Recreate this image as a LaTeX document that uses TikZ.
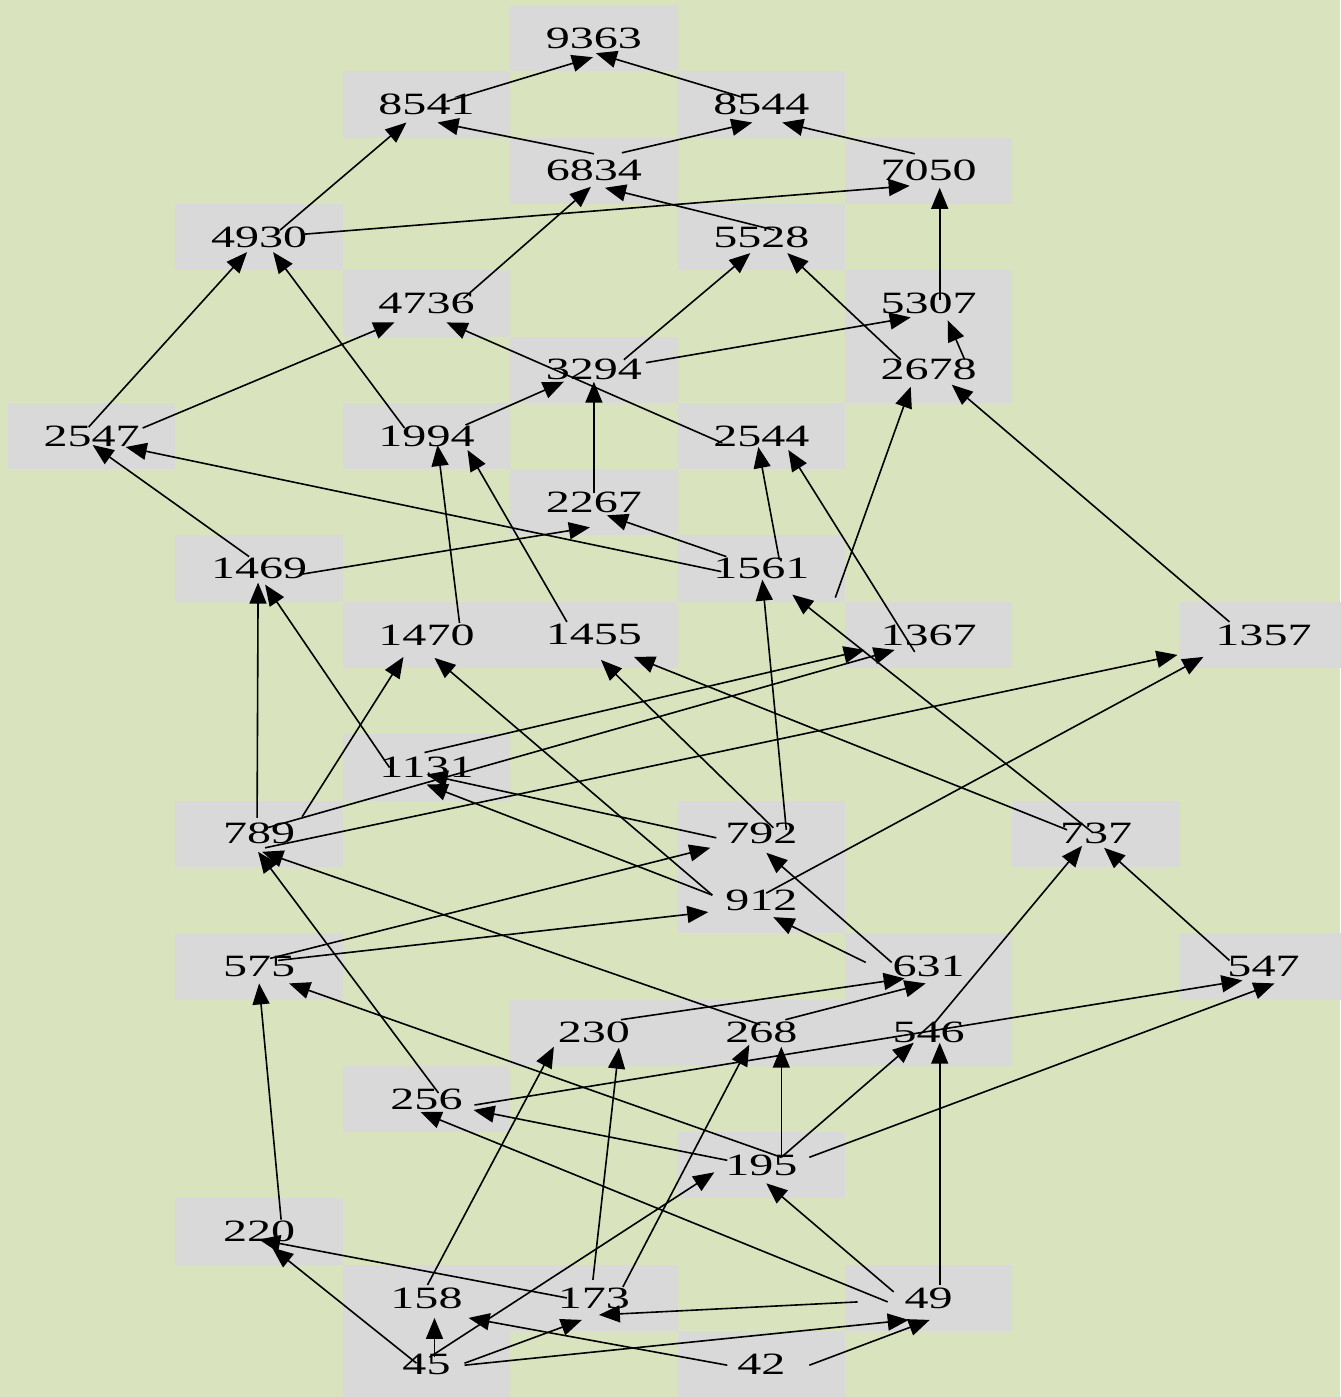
\documentclass[tikz,border=0pt]{standalone}
\usepackage{fontspec}
\usepackage{xcolor}
\newfontfamily\cellfont{Liberation Serif}[FakeStretch=1.55]
\definecolor{dagbg}{RGB}{217,228,191}
\definecolor{daggray}{RGB}{217,217,217}
\usepackage{tikz}
\usetikzlibrary{arrows.meta}

\begin{document}
\begin{tikzpicture}[x=0.5pt, y=-0.5pt,
  cell/.style={fill=daggray, minimum width=83.7pt, minimum height=33.15pt,
    inner sep=0pt, outer sep=0pt, font=\cellfont\fontsize{15.5}{18}\selectfont},
  link/.style={draw=black, line width=0.8pt, -{Triangle[length=10.5pt, width=8.5pt]}}]
  % Background
  \fill[dagbg] (0,0) rectangle (1340,1397);
  \useasboundingbox (0,0) rectangle (1340,1397);

  % Rows 0--5
  \node[cell] (n9363) at (593.9,38.2) {9363};
  \node[cell] (n8541) at (426.5,104.5) {8541};
  \node[cell] (n8544) at (761.3,104.5) {8544};
  \node[cell] (n6834) at (593.9,170.8) {6834};
  \node[cell] (n7050) at (928.7,170.8) {7050};
  \node[cell] (n4930) at (259.1,237.1) {4930};
  \node[cell] (n5528) at (761.3,237.1) {5528};
  \node[cell] (n4736) at (426.5,303.4) {4736};
  \node[cell] (n5307) at (928.7,303.4) {5307};
  \node[cell] (n3294) at (593.9,369.7) {3294};
  \node[cell] (n2678) at (928.7,369.7) {2678};

  % Rows 6--9
  \node[cell] (n2547) at (91.7,436) {2547};
  \node[cell] (n1994) at (426.5,436) {1994};
  \node[cell] (n2544) at (761.3,436) {2544};
  \node[cell] (n2267) at (593.9,502.3) {2267};
  \node[cell] (n1469) at (259.1,568.6) {1469};
  \node[cell] (n1561) at (761.3,568.6) {1561};
  \node[cell] (n1470) at (426.5,634.9) {1470};
  \node[cell] (n1455) at (593.9,634.9) {1455};
  \node[cell] (n1367) at (928.7,634.9) {1367};
  \node[cell] (n1357) at (1263.5,634.9) {1357};

  % Rows 11--15
  \node[cell] (n1131) at (426.5,767.5) {1131};
  \node[cell] (n789) at (259.1,833.8) {789};
  \node[cell] (n792) at (761.3,833.8) {792};
  \node[cell] (n737) at (1096.1,833.8) {737};
  \node[cell] (n912) at (761.3,900.1) {912};
  \node[cell] (n575) at (259.1,966.4) {575};
  \node[cell] (n631) at (928.7,966.4) {631};
  \node[cell] (n547) at (1263.5,966.4) {547};
  \node[cell] (n230) at (593.9,1032.7) {230};
  \node[cell] (n268) at (761.3,1032.7) {268};
  \node[cell] (n546) at (928.7,1032.7) {546};

  % Rows 16--20
  \node[cell] (n256) at (426.5,1099) {256};
  \node[cell] (n195) at (761.3,1165.3) {195};
  \node[cell] (n220) at (259.1,1231.6) {220};
  \node[cell] (n158) at (426.5,1297.9) {158};
  \node[cell] (n173) at (593.9,1297.9) {173};
  \node[cell] (n49) at (928.7,1297.9) {49};
  \node[cell] (n45) at (426.5,1364.2) {45};
  \node[cell] (n42) at (761.3,1364.2) {42};

  % Edges into the upper rows
  \draw[link] ([shift={(20,-3)}]n8541.center) -- ([shift={(-1,19)}]n9363.center);
  \draw[link] ([shift={(-18,-7)}]n8544.center) -- ([shift={(2,15)}]n9363.center);
  \draw[link] ([shift={(0,-17)}]n6834.center) -- ([shift={(11,18)}]n8541.center);
  \draw[link] ([shift={(21,-7)}]n4930.center) -- ([shift={(-20,18)}]n8541.center);
  \draw[link] ([shift={(28,-18)}]n6834.center) -- ([shift={(-9,18)}]n8544.center);
  \draw[link] ([shift={(-14,-17)}]n7050.center) -- ([shift={(21,18)}]n8544.center);
  \draw[link] ([shift={(37,-5)}]n4736.center) -- ([shift={(-3,16)}]n6834.center);
  \draw[link] ([shift={(13,-7)}]n5528.center) -- ([shift={(11,17)}]n6834.center);
  \draw[link] ([shift={(46,-3)}]n4930.center) -- ([shift={(-19,15)}]n7050.center);
  \draw[link] ([shift={(11,-3)}]n5307.center) -- ([shift={(11,17)}]n7050.center);
  \draw[link] ([shift={(-3,-9)}]n2547.center) -- ([shift={(-12,15)}]n4930.center);
  \draw[link] ([shift={(-22,-8)}]n1994.center) -- ([shift={(14,15)}]n4930.center);
  \draw[link] ([shift={(30,-10)}]n3294.center) -- ([shift={(-11,16)}]n5528.center);
  \draw[link] ([shift={(-28,-10)}]n2678.center) -- ([shift={(26,16)}]n5528.center);
  \draw[link] ([shift={(51,-8)}]n2547.center) -- ([shift={(-32,19)}]n4736.center);
  \draw[link] ([shift={(-39,7)}]n2544.center) -- ([shift={(20,19)}]n4736.center);
  \draw[link] ([shift={(52,-7)}]n3294.center) -- ([shift={(-18,14)}]n5307.center);
  \draw[link] ([shift={(36,-10)}]n2678.center) -- ([shift={(19,17)}]n5307.center);
  \draw[link] ([shift={(39,-11)}]n1994.center) -- ([shift={(-30,12)}]n3294.center);
  \draw[link] ([shift={(0,-9)}]n2267.center) -- ([shift={(0,12)}]n3294.center);
  \draw[link] ([shift={(74,29)}]n1561.center) -- ([shift={(-18,17)}]n2678.center);
  \draw[link] ([shift={(-34,-13)}]n1357.center) -- ([shift={(23,15)}]n2678.center);

  % Edges into the middle rows
  \draw[link] ([shift={(-10,-12)}]n1469.center) -- ([shift={(1,9)}]n2547.center);
  \draw[link] ([shift={(-40,3)}]n1561.center) -- ([shift={(34,11)}]n2547.center);
  \draw[link] ([shift={(33,-12)}]n1470.center) -- ([shift={(11,9)}]n1994.center);
  \draw[link] ([shift={(-27,-13)}]n1455.center) -- ([shift={(41,14)}]n1994.center);
  \draw[link] ([shift={(18,-9)}]n1561.center) -- ([shift={(-3,11)}]n2544.center);
  \draw[link] ([shift={(-14,17)}]n1367.center) -- ([shift={(27,14)}]n2544.center);
  \draw[link] ([shift={(40,6)}]n1469.center) -- ([shift={(-4,25)}]n2267.center);
  \draw[link] ([shift={(-35,-12)}]n1561.center) -- ([shift={(13,13)}]n2267.center);
  \draw[link] ([shift={(-2,-16)}]n789.center) -- ([shift={(-1,14)}]n1469.center);
  \draw[link] ([shift={(-37,0)}]n1131.center) -- ([shift={(6,16)}]n1469.center);
  \draw[link] ([shift={(25,-4)}]n792.center) -- ([shift={(1,11)}]n1561.center);
  \draw[link] ([shift={(-3,-1)}]n737.center) -- ([shift={(31,26)}]n1561.center);
  \draw[link] ([shift={(43,-17)}]n789.center) -- ([shift={(-23,22)}]n1470.center);
  \draw[link] ([shift={(-49,-5)}]n912.center) -- ([shift={(8,23)}]n1470.center);
  \draw[link] ([shift={(12,-6)}]n792.center) -- ([shift={(7,25)}]n1455.center);
  \draw[link] ([shift={(-29,-4)}]n737.center) -- ([shift={(40,22)}]n1455.center);
  \draw[link] ([shift={(-2,-15)}]n1131.center) -- ([shift={(-64,15)}]n1367.center);
  \draw[link] ([shift={(8,-6)}]n789.center) -- ([shift={(-34,15)}]n1367.center);
  \draw[link] ([shift={(6,14)}]n789.center) -- ([shift={(-86,20)}]n1357.center);
  \draw[link] ([shift={(5,-7)}]n912.center) -- ([shift={(-60,22)}]n1357.center);
  \draw[link] ([shift={(-45,4)}]n792.center) -- ([shift={(0,7)}]n1131.center);
  \draw[link] ([shift={(-49,-5)}]n912.center) -- ([shift={(0,17)}]n1131.center);

  % Edges into the lower rows
  \draw[link] ([shift={(-1,-8)}]n268.center) -- ([shift={(3,18)}]n789.center);
  \draw[link] ([shift={(12,-6)}]n256.center) -- ([shift={(-1,18)}]n789.center);
  \draw[link] ([shift={(11,-8)}]n575.center) -- ([shift={(-51,14)}]n792.center);
  \draw[link] ([shift={(-37,-4)}]n631.center) -- ([shift={(5,19)}]n792.center);
  \draw[link] ([shift={(6,-10)}]n546.center) -- ([shift={(-14,12)}]n737.center);
  \draw[link] ([shift={(-34,-6)}]n547.center) -- ([shift={(8,14)}]n737.center);
  \draw[link] ([shift={(19,-6)}]n575.center) -- ([shift={(-53,12)}]n912.center);
  \draw[link] ([shift={(-63,-4)}]n631.center) -- ([shift={(12,17)}]n912.center);
  \draw[link] ([shift={(22,-12)}]n220.center) -- ([shift={(0,17)}]n575.center);
  \draw[link] ([shift={(20,-8)}]n195.center) -- ([shift={(30,17)}]n575.center);
  \draw[link] ([shift={(27,-13)}]n230.center) -- ([shift={(-24,12)}]n631.center);
  \draw[link] ([shift={(24,-13)}]n268.center) -- ([shift={(-3,17)}]n631.center);
  \draw[link] ([shift={(48,6)}]n256.center) -- ([shift={(-21,14)}]n547.center);
  \draw[link] ([shift={(48,-8)}]n195.center) -- ([shift={(11,17)}]n547.center);
  \draw[link] ([shift={(1,-13)}]n158.center) -- ([shift={(-40,14)}]n230.center);
  \draw[link] ([shift={(-1,-18)}]n173.center) -- ([shift={(25,15)}]n230.center);
  \draw[link] ([shift={(29,-11)}]n173.center) -- ([shift={(-12,12)}]n268.center);
  \draw[link] ([shift={(20,-8)}]n195.center) -- ([shift={(20,14)}]n268.center);
  \draw[link] ([shift={(20,-8)}]n195.center) -- ([shift={(-15,10)}]n546.center);
  \draw[link] ([shift={(11,-13)}]n49.center) -- ([shift={(11,10)}]n546.center);
  \draw[link] ([shift={(-34,-5)}]n195.center) -- ([shift={(47,11)}]n256.center);
  \draw[link] ([shift={(-41,4)}]n49.center) -- ([shift={(-6,13)}]n256.center);
  \draw[link] ([shift={(-27,0)}]n173.center) -- ([shift={(0,8)}]n220.center);
  \draw[link] ([shift={(-10,-1)}]n45.center) -- ([shift={(13,16)}]n220.center);
  \draw[link] ([shift={(3,-7)}]n45.center) -- ([shift={(-47,7)}]n195.center);
  \draw[link] ([shift={(-35,-6)}]n49.center) -- ([shift={(5,18)}]n195.center);
  \draw[link] ([shift={(8,-7)}]n45.center) -- ([shift={(8,20)}]n158.center);
  \draw[link] ([shift={(-34,1)}]n42.center) -- ([shift={(42,20)}]n158.center);
  \draw[link] ([shift={(38,-1)}]n45.center) -- ([shift={(-12,22)}]n173.center);
  \draw[link] ([shift={(-71,4)}]n49.center) -- ([shift={(5,17)}]n173.center);
  \draw[link] ([shift={(38,1)}]n45.center) -- ([shift={(-20,22)}]n49.center);
  \draw[link] ([shift={(48,1)}]n42.center) -- ([shift={(1,22)}]n49.center);
\end{tikzpicture}
\end{document}
